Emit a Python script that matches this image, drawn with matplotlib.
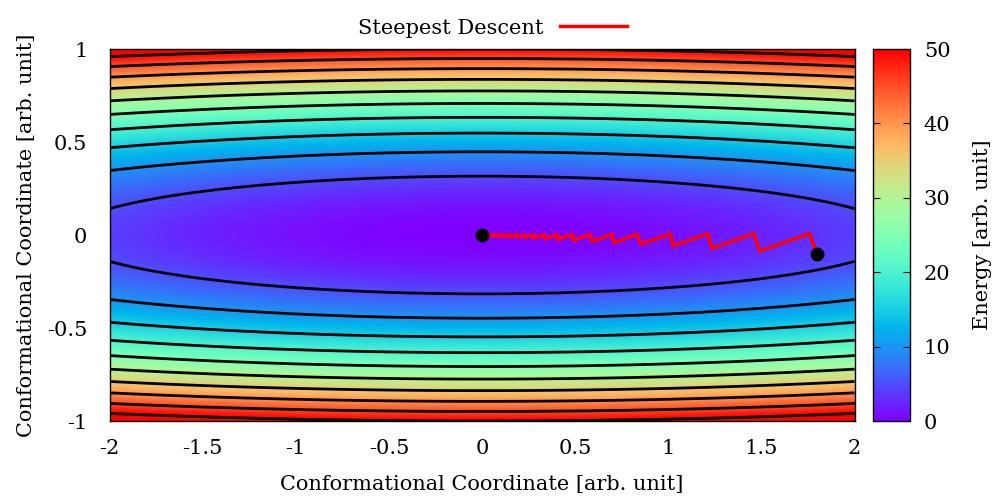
import numpy as np
import matplotlib
matplotlib.use('Agg')
import matplotlib.pyplot as plt

plt.rcParams['font.family'] = ['DejaVu Serif']
plt.rcParams['axes.unicode_minus'] = False

coef_x = 1.0
coef_y = 50.0
contour_levels = [5, 10, 15, 20, 25, 30, 35, 40, 45, 50]
cbar_ticks = [0, 10, 20, 30, 40, 50]

# steepest descent path (start -> minimum)
path_x = [1.80, 1.758, 1.490, 1.459, 1.234, 1.213, 1.025, 1.011, 0.851, 0.834,
          0.707, 0.700, 0.590, 0.582, 0.491, 0.485, 0.408, 0.405, 0.339, 0.334,
          0.281, 0.277, 0.234, 0.229, 0.193, 0.190, 0.158, 0.154, 0.128, 0.126,
          0.105, 0.103, 0.087, 0.085, 0.071, 0.070, 0.058, 0.057, 0.047, 0.046,
          0.030, 0.0]
path_y = [-0.104, 0.008, -0.086, 0.008, -0.072, 0.007, -0.058, 0.006, -0.049, 0.005,
          -0.042, 0.005, -0.035, 0.004, -0.029, 0.004, -0.024, 0.003, -0.020, 0.003,
          -0.016, 0.002, -0.013, 0.002, -0.011, 0.002, -0.009, 0.001, -0.007, 0.001,
          -0.006, 0.001, -0.005, 0.001, -0.004, 0.0, -0.003, 0.0, -0.003, 0.0,
          -0.002, 0.0]

xx, yy = np.meshgrid(np.linspace(-2, 2, 400), np.linspace(-1, 1, 300))
energy = coef_x * xx**2 + coef_y * yy**2

fig = plt.figure(figsize=(9.96, 4.98), dpi=100)
ax = fig.add_axes([0.110, 0.1546, 0.748, 0.747])
cax = fig.add_axes([0.8765, 0.1546, 0.0371, 0.747])

im = ax.imshow(energy, extent=[-2, 2, -1, 1], origin='lower', cmap='rainbow',
               vmin=0, vmax=50, aspect='auto', interpolation='bilinear')
ax.contour(xx, yy, energy, levels=contour_levels, colors='black', linewidths=2.0)

line, = ax.plot(path_x, path_y, color='red', lw=2.5, label='Steepest Descent')
ax.plot([path_x[0], path_x[-1]], [path_y[0], path_y[-1]], 'o', color='black', ms=9)

ax.set_xlim(-2, 2)
ax.set_ylim(-1, 1)
xt = [-2, -1.5, -1, -0.5, 0, 0.5, 1, 1.5, 2]
yt = [-1, -0.5, 0, 0.5, 1]
ax.set_xticks(xt)
ax.set_xticklabels([f'{v:g}' for v in xt])
ax.set_yticks(yt)
ax.set_yticklabels([f'{v:g}' for v in yt])
ax.tick_params(axis='x', length=0, labelsize=15, pad=13)
ax.tick_params(axis='y', length=0, labelsize=15, pad=16)
ax.set_xlabel('Conformational Coordinate [arb. unit]', fontsize=15, labelpad=12)
ax.set_ylabel('Conformational Coordinate [arb. unit]', fontsize=15, labelpad=8)
for s in ax.spines.values():
    s.set_linewidth(1.0)

leg = ax.legend(handles=[line], loc='lower center', bbox_to_anchor=(0.514, 1.0),
                frameon=False, fontsize=15, markerfirst=False, handlelength=3.2,
                handletextpad=0.8, borderaxespad=0.15)

cb = fig.colorbar(im, cax=cax, ticks=cbar_ticks)
cb.ax.tick_params(direction='in', length=5, labelsize=15, left=True, right=True, pad=10)
cb.set_label('Energy [arb. unit]', fontsize=15, labelpad=16)
cb.outline.set_linewidth(1.0)

fig.savefig('out.png', dpi=100)
